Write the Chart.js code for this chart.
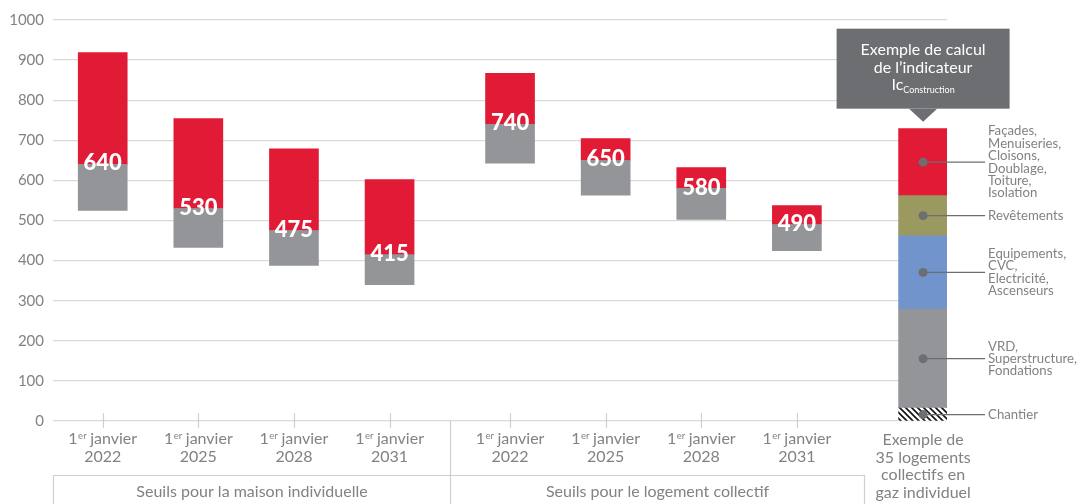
<!DOCTYPE html>
<html>
<head>
<meta charset="utf-8">
<script src="https://cdn.jsdelivr.net/npm/chart.js@4.4.1/dist/chart.umd.min.js"></script>
<style>
  html, body { margin: 0; padding: 0; background: #fff; }
  #wrap { width: 1082px; height: 504px; position: relative; }
</style>
</head>
<body>
<div id="wrap"><canvas id="seuilsChart"></canvas></div>
<script>
// positions on the x axis (in slot units) and labels
const positions = [0.52, 1.52, 2.52, 3.52, 4.78, 5.78, 6.78, 7.78];
const annees = ['2022', '2025', '2028', '2031', '2022', '2025', '2028', '2031'];
const groupes = ['Seuils pour la maison individuelle', 'Seuils pour le logement collectif'];

// thresholds (kg eq. CO2/m²) with the low and high ends of each bar
const seuils = [640, 530, 475, 415, 740, 650, 580, 490];
const bas = [525, 433, 388, 340, 643, 563, 503, 425];
const hauts = [919, 754, 679, 602, 867, 704, 632, 537];

// example building: contribution of each lot, from the ground up
const exemplePosition = 9.1;
const exempleLots = ['Chantier', 'VRD, Superstructure, Fondations', 'Equipements, CVC, Electricité, Ascenseurs', 'Revêtements', 'Façades, Menuiseries, Cloisons, Doublage, Toiture, Isolation'];
const exempleValeurs = [32, 247, 183, 100, 167];
const exempleLignes = [
    ['Chantier'],
    ['VRD,', 'Superstructure,', 'Fondations'],
    ['Equipements,', 'CVC,', 'Electricité,', 'Ascenseurs'],
    ['Revêtements'],
    ['Façades,', 'Menuiseries,', 'Cloisons,', 'Doublage,', 'Toiture,', 'Isolation']
];
const exempleTitre = ['Exemple de', '35 logements', 'collectifs en', 'gaz individuel'];

const ROUGE = '#e11a35';
const GRIS = '#939598';
const OLIVE = '#9a995f';
const BLEU = '#7194cd';
const ANTHRACITE = '#6d6e71';
const TEXTE = '#808285';
const TRAIT = '#cfcfcf';
const FONT = 'Lato, "Noto Sans", sans-serif';

// hatch for the site works lot
function hachures() {
    const c = document.createElement('canvas');
    c.width = 6; c.height = 6;
    const g = c.getContext('2d');
    g.fillStyle = '#fff';
    g.fillRect(0, 0, 6, 6);
    g.strokeStyle = '#111';
    g.lineWidth = 1.6;
    g.beginPath();
    g.moveTo(-1, -1); g.lineTo(7, 7);
    g.moveTo(-1, 5); g.lineTo(1, 7);
    g.moveTo(5, -1); g.lineTo(7, 1);
    g.stroke();
    return g.createPattern(c, 'repeat');
}

let cumul = [0];
exempleValeurs.forEach(v => cumul.push(cumul[cumul.length - 1] + v));
const exempleCouleurs = [hachures(), GRIS, BLEU, OLIVE, ROUGE];

const datasets = [
    {
        label: 'Bas',
        data: positions.map((x, i) => ({x: x, y: [bas[i], seuils[i]]})),
        backgroundColor: GRIS
    },
    {
        label: 'Haut',
        data: positions.map((x, i) => ({x: x, y: [seuils[i], hauts[i]]})),
        backgroundColor: ROUGE
    }
];
exempleValeurs.forEach((v, i) => {
    datasets.push({
        label: exempleLots[i],
        data: [{x: exemplePosition, y: [cumul[i], cumul[i + 1]]}],
        backgroundColor: exempleCouleurs[i]
    });
});

function texteSup(ctx, x, y) {
    // "1er janvier" with a superscript "er", centred on x
    ctx.font = '16px ' + FONT;
    const w1 = ctx.measureText('1').width;
    const w3 = ctx.measureText(' janvier').width;
    ctx.font = '9.5px ' + FONT;
    const w2 = ctx.measureText('er').width;
    let left = x - (w1 + w2 + w3) / 2;
    ctx.textAlign = 'left';
    ctx.font = '16px ' + FONT;
    ctx.fillText('1', left, y);
    ctx.font = '9.5px ' + FONT;
    ctx.fillText('er', left + w1 + 0.5, y - 3.5);
    ctx.font = '16px ' + FONT;
    ctx.fillText(' janvier', left + w1 + w2, y);
}

const decor = {
    id: 'decor',
    afterDatasetsDraw(chart) {
        const ctx = chart.ctx;
        const xs = chart.scales.x;
        const ys = chart.scales.y;
        const area = chart.chartArea;
        const y0 = ys.getPixelForValue(0);
        ctx.save();

        // threshold values on the bars
        ctx.fillStyle = '#fff';
        ctx.font = '900 22px ' + FONT;
        ctx.textAlign = 'center';
        ctx.textBaseline = 'middle';
        positions.forEach((p, i) => {
            ctx.fillText(String(seuils[i]), xs.getPixelForValue(p), ys.getPixelForValue(seuils[i]) - 1);
        });

        // tick marks across the zero line
        ctx.strokeStyle = TRAIT;
        ctx.lineWidth = 1.2;
        ctx.beginPath();
        positions.forEach(p => {
            const px = Math.round(xs.getPixelForValue(p)) + 0.5;
            ctx.moveTo(px, y0 - 8);
            ctx.lineTo(px, y0 + 7);
        });
        ctx.stroke();

        // group frames
        const sep = Math.round(xs.getPixelForValue((positions[3] + positions[4]) / 2)) + 0.5;
        const fin = Math.round(xs.getPixelForValue(positions[7] + 0.7)) + 0.5;
        const gauche = Math.round(area.left) + 0.5;
        ctx.beginPath();
        ctx.moveTo(sep, y0);
        ctx.lineTo(sep, 504);
        ctx.moveTo(gauche, 504);
        ctx.lineTo(gauche, 475.5);
        ctx.lineTo(fin, 475.5);
        ctx.lineTo(fin, 504);
        ctx.stroke();

        // category labels
        ctx.fillStyle = TEXTE;
        ctx.textBaseline = 'middle';
        positions.forEach((p, i) => {
            const px = xs.getPixelForValue(p);
            texteSup(ctx, px, 439);
            ctx.textAlign = 'center';
            ctx.font = '16px ' + FONT;
            ctx.fillText(annees[i], px, 457);
        });
        ctx.textAlign = 'center';
        ctx.font = '16px ' + FONT;
        ctx.fillText(groupes[0], (gauche + sep) / 2, 492);
        ctx.fillText(groupes[1], (sep + fin) / 2, 492);
        const ex = xs.getPixelForValue(exemplePosition);
        exempleTitre.forEach((t, i) => ctx.fillText(t, ex, 440 + i * 17.6));

        // leader lines to the lot names
        const xLabel = ex + 62;
        exempleValeurs.forEach((v, i) => {
            const py = ys.getPixelForValue(cumul[i] + v / 2);
            ctx.strokeStyle = ANTHRACITE;
            ctx.lineWidth = 1.3;
            ctx.beginPath();
            ctx.moveTo(ex, py);
            ctx.lineTo(xLabel, py);
            ctx.stroke();
            ctx.fillStyle = ANTHRACITE;
            ctx.beginPath();
            ctx.arc(ex, py, 4.5, 0, Math.PI * 2);
            ctx.fill();
            const lignes = exempleLignes[i];
            const lh = 12.4;
            ctx.fillStyle = TEXTE;
            ctx.font = '13.2px ' + FONT;
            ctx.textAlign = 'left';
            lignes.forEach((l, k) => {
                ctx.fillText(l, xLabel + 3, py + (k - (lignes.length - 1) / 2) * lh);
            });
        });

        // callout above the example bar
        const top = ys.getPixelForValue(cumul[cumul.length - 1]);
        const boxW = 173, boxH = 80;
        const boxBottom = top - 20;
        ctx.fillStyle = ANTHRACITE;
        ctx.fillRect(ex - boxW / 2, boxBottom - boxH, boxW, boxH);
        ctx.beginPath();
        ctx.moveTo(ex - 14, boxBottom);
        ctx.lineTo(ex + 14, boxBottom);
        ctx.lineTo(ex, top - 7);
        ctx.closePath();
        ctx.fill();
        ctx.fillStyle = '#fff';
        ctx.textAlign = 'center';
        ctx.font = '16px ' + FONT;
        ctx.fillText('Exemple de calcul', ex, boxBottom - boxH + 21);
        ctx.fillText('de l\u2019indicateur', ex, boxBottom - boxH + 39);
        const wIc = ctx.measureText('Ic').width;
        ctx.font = '9px ' + FONT;
        const wSub = ctx.measureText('Construction').width;
        const l0 = ex - (wIc + wSub) / 2;
        ctx.textAlign = 'left';
        ctx.font = '16px ' + FONT;
        ctx.fillText('Ic', l0, boxBottom - boxH + 56);
        ctx.font = '9px ' + FONT;
        ctx.fillText('Construction', l0 + wIc, boxBottom - boxH + 61);

        ctx.restore();
    }
};

new Chart(document.getElementById('seuilsChart'), {
    type: 'bar',
    data: { datasets: datasets },
    options: {
        responsive: true,
        maintainAspectRatio: false,
        animation: false,
        layout: { padding: { top: 20, right: 135, bottom: 83, left: 0 } },
        datasets: {
            bar: { grouped: false, barThickness: 49, borderWidth: 0 }
        },
        plugins: {
            legend: { display: false },
            tooltip: { enabled: false }
        },
        scales: {
            x: {
                type: 'linear',
                display: false,
                offset: false,
                min: 0,
                max: 9.35
            },
            y: {
                min: 0,
                max: 1000,
                afterFit: (scale) => { scale.width = 53; },
                border: { display: false },
                grid: { color: '#d9d9d9', lineWidth: 1.3, drawTicks: false },
                ticks: {
                    stepSize: 100,
                    padding: 9,
                    color: TEXTE,
                    font: { family: FONT, size: 15 },
                    callback: (v) => String(v)
                }
            }
        }
    },
    plugins: [decor]
});
</script>
</body>
</html>
